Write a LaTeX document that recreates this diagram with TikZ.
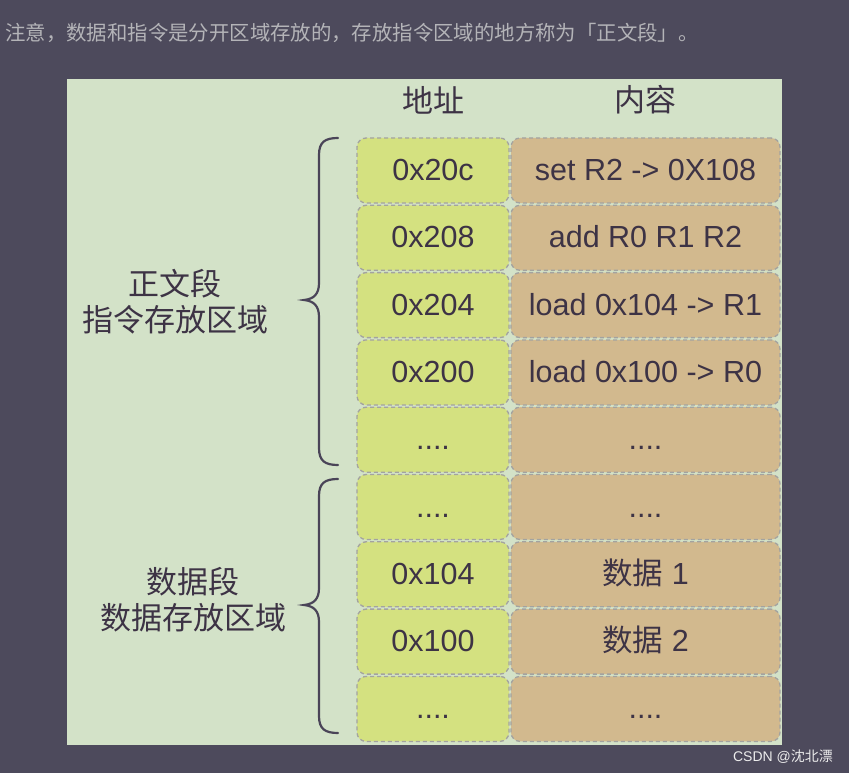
\documentclass[tikz,border=0pt]{standalone}
\usepackage{fontspec}
\setmainfont{Liberation Sans}
\newfontfamily\cjk{Noto Sans CJK SC}
\definecolor{bgdark}{HTML}{4D4A5C}
\definecolor{panel}{HTML}{D3E2C8}
\definecolor{addrc}{HTML}{D4E180}
\definecolor{contc}{HTML}{D2B98E}
\definecolor{edge}{HTML}{A3A3A0}
\definecolor{ink}{HTML}{3D3345}
\definecolor{brace}{HTML}{4A4458}
\definecolor{toptext}{HTML}{B4B4B8}
\newcommand\fdots{....}
\tikzset{
  cell/.style={draw=edge, dashed, dash pattern=on 4pt off 3pt, line width=1.3pt, rounded corners=9pt,
    minimum height=65pt, inner sep=0pt, text=ink, font=\fontsize{30.5}{30.5}\selectfont,
    text height=20pt, text depth=0pt},
  addr/.style={cell, fill=addrc, minimum width=152pt},
  cont/.style={cell, fill=contc, minimum width=269pt},
  head/.style={text=ink, font=\cjk\fontsize{31}{31}\selectfont},
  seglabel/.style={text=ink, font=\cjk\fontsize{31}{36}\selectfont, align=center},
  bracestyle/.style={draw=brace, line width=2.2pt, line cap=round}
}
\begin{document}
\begin{tikzpicture}[x=1pt,y=-1pt]
\fill[bgdark] (0,0) rectangle (849,773);
\useasboundingbox (0,0) rectangle (849,773);
\node[anchor=west, text=toptext, font=\cjk\fontsize{20.4}{20.4}\selectfont, inner sep=0pt] (title) at (5,33) {注意，数据和指令是分开区域存放的，存放指令区域的地方称为「正文段」。};
\fill[panel] (67,79) rectangle (782,745);
\node[head] (h1) at (433,100) {地址};
\node[head] (h2) at (645,100) {内容};
\foreach \i/\a/\c in {0/0x20c/set R2 -> 0X108, 1/0x208/add R0 R1 R2, 2/0x204/load 0x104 -> R1, 3/0x200/load 0x100 -> R0, 4/\fdots/\fdots, 5/\fdots/\fdots, 6/0x104/{\cjk 数据}~1, 7/0x100/{\cjk 数据}~2, 8/\fdots/\fdots}{
  \node[addr] (a\i) at (433,{170.5+67.3*\i}) {\a};
  \node[cont] (c\i) at (645.5,{170.5+67.3*\i}) {\c};
}
\draw[bracestyle] (338,138) .. controls (325,138) and (319,142) .. (319,155)
  -- (319,283) .. controls (319,294) and (314,299) .. (304,300)
  .. controls (314,301) and (319,306) .. (319,317)
  -- (319,448) .. controls (319,461) and (325,465) .. (338,465);
\draw[bracestyle] (338,479) .. controls (325,479) and (319,483) .. (319,496)
  -- (319,588) .. controls (319,599) and (314,604) .. (304,605)
  .. controls (314,606) and (319,611) .. (319,622)
  -- (319,716) .. controls (319,729) and (325,733) .. (338,733);
\node[seglabel] (s1) at (175,302) {正文段\\指令存放区域};
\node[seglabel] (s2) at (193,600) {数据段\\数据存放区域};
\node[text=white!85!gray, font=\fontsize{14}{14}\selectfont, inner sep=0pt] (wm) at (783,757) {CSDN @{\cjk 沈北漂}};
\end{tikzpicture}
\end{document}
